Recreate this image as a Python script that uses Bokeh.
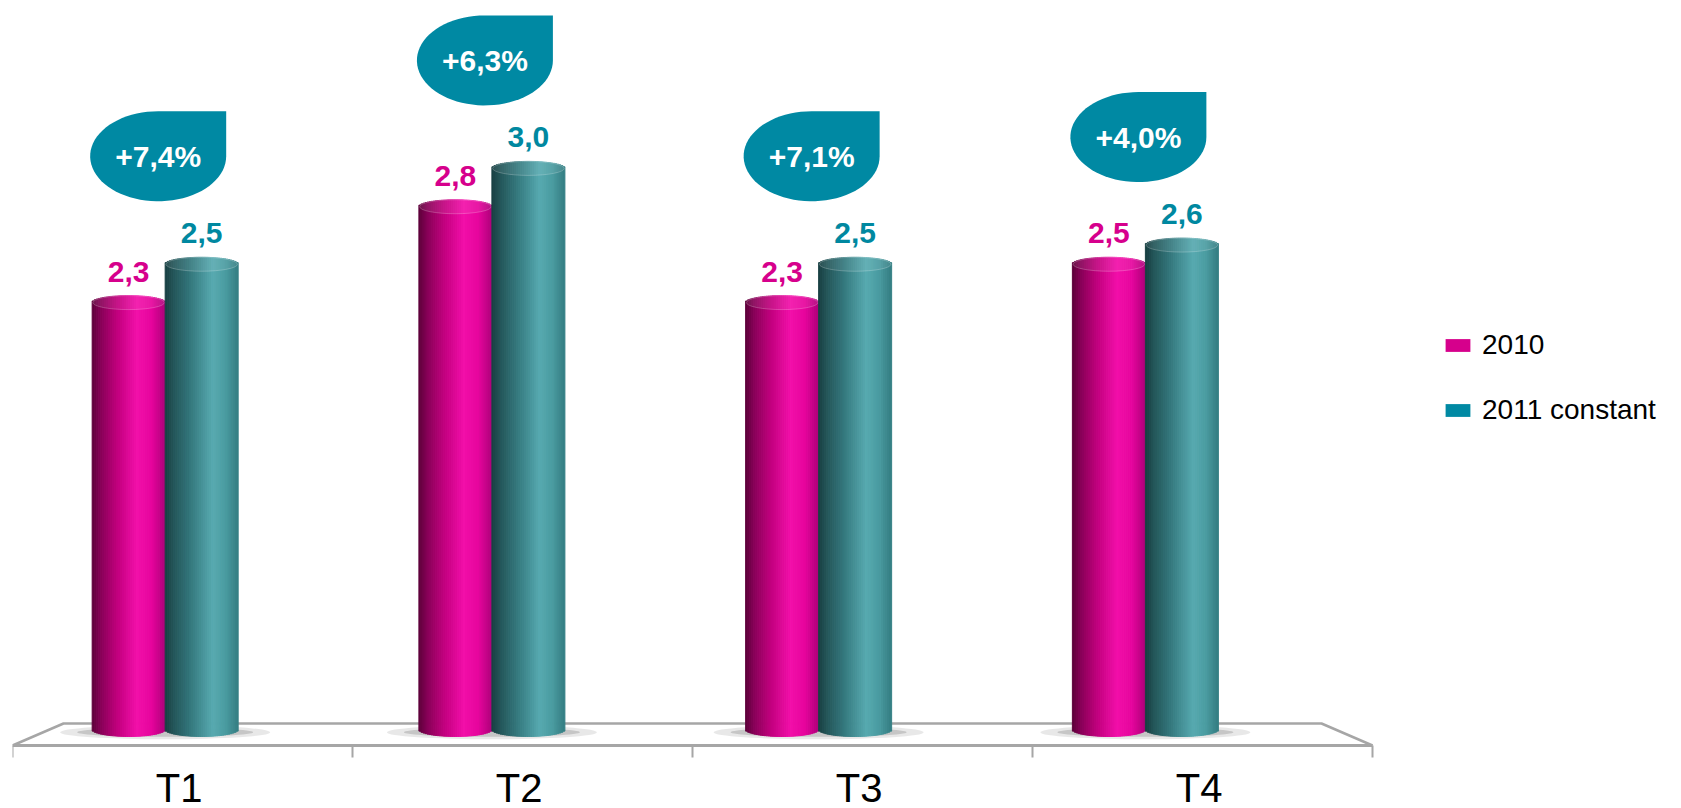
import numpy as np
from bokeh.plotting import figure
from bokeh.models import ColumnDataSource, Range1d, FixedTicker, Legend, LegendItem
from bokeh.core.properties import value
from bokeh.embed import file_html
from bokeh.resources import INLINE

# ---------------- data ----------------
categories = ["T1", "T2", "T3", "T4"]
series_names = ["2010", "2011 constant"]
values_2010 = [2.3, 2.8, 2.3, 2.5]
values_2011 = [2.5, 3.0, 2.5, 2.6]
growth_labels = ["+7,4%", "+6,3%", "+7,1%", "+4,0%"]

# ---------------- style / layout ----------------
FONT = "Liberation Sans"
MAGENTA = "#D6008C"
TEAL = "#0089A3"
LABEL_TEAL = "#0088A0"
GRID_GREY = "#A6A6A6"

W, H = 1681, 808
BORDER_L = 12
FRAME_W, FRAME_H = W - BORDER_L, H
PX_X = 340.0          # px per category
PX_Y = 191.7          # px per unit of value
BASE_PX = 72          # px between the cylinder bases and the bottom of the canvas
x_end = FRAME_W / PX_X
y_start = -BASE_PX / PX_Y
y_end = y_start + FRAME_H / PX_Y
floor_front = -9 / PX_Y       # front edge of the 3D floor
floor_back = 13 / PX_Y        # back edge of the 3D floor

depth_scale = 0.961   # bars stand mid-depth on the 3D floor -> slightly tighter spacing
group0 = 0.449
bar_w = 73 / PX_X
cap = 7 / PX_Y
N_STRIPS = 36

magenta_stops = [(0.0, "#5a0039"), (0.12, "#870057"), (0.35, "#c2007e"),
                 (0.62, "#f20fa9"), (0.82, "#e6059d"), (1.0, "#b0007a")]
teal_stops = [(0.0, "#173e41"), (0.12, "#245659"), (0.35, "#34787d"),
              (0.66, "#57aab0"), (0.84, "#4a9ba0"), (1.0, "#347d82")]


def hex2rgb(h):
    h = h.lstrip("#")
    return np.array([int(h[i:i + 2], 16) for i in (0, 2, 4)], dtype=float)


def grad(stops, u):
    for (u0, c0), (u1, c1) in zip(stops[:-1], stops[1:]):
        if u0 <= u <= u1:
            t = (u - u0) / (u1 - u0)
            c = hex2rgb(c0) * (1 - t) + hex2rgb(c1) * t
            return "#%02x%02x%02x" % tuple(int(round(v)) for v in c)
    return stops[-1][1]


p = figure(width=W, height=H, output_backend="svg", toolbar_location=None,
           x_range=Range1d(0, x_end), y_range=Range1d(y_start, y_end),
           y_axis_location=None, min_border_left=BORDER_L, min_border_right=0,
           min_border_top=0, min_border_bottom=0)
p.grid.visible = False
p.outline_line_color = None
p.background_fill_color = "white"

n = len(categories)
group_x = [group0 + depth_scale * i for i in range(n)]

# ---------- floor (3D base) ----------
inset = 51 / PX_X
p.line(x=[0, inset, n - inset, n], y=[floor_front, floor_back, floor_back, floor_front],
       line_color=GRID_GREY, line_width=2.5)

# shadows under the cylinders
p.ellipse(x=group_x, y=[cap * 0.6] * n, width=2 * bar_w + 64 / PX_X, height=14 / PX_Y,
          fill_color="#7f7f7f", fill_alpha=0.18, line_color=None)
p.ellipse(x=group_x, y=[cap * 0.6] * n, width=2 * bar_w + 30 / PX_X, height=9 / PX_Y,
          fill_color="#5f5f5f", fill_alpha=0.25, line_color=None)

# ---------- cylinders ----------
def cylinders(vals, side, stops):
    xs, bottoms, tops, colors = [], [], [], []
    centers = []
    for gx, v in zip(group_x, vals):
        cx = gx + side * bar_w / 2
        centers.append(cx)
        left = cx - bar_w / 2
        for k in range(N_STRIPS):
            u = (k + 0.5) / N_STRIPS
            s = np.sqrt(max(0.0, 1 - (2 * u - 1) ** 2))
            xs.append(left + u * bar_w)
            bottoms.append(cap * (1 - s))
            tops.append(v - cap + cap * s)
            colors.append(grad(stops, u))
    src = ColumnDataSource(dict(x=xs, bottom=bottoms, top=tops, color=colors))
    p.vbar(x="x", bottom="bottom", top="top", width=bar_w / N_STRIPS,
           fill_color="color", line_color="color", line_width=1, source=src)
    # top face rim
    p.ellipse(x=centers, y=[v - cap for v in vals], width=bar_w * 0.98, height=2 * cap,
              fill_color="white", fill_alpha=0.08, line_color="white", line_alpha=0.22,
              line_width=1)
    return centers


c2010 = cylinders(values_2010, -1, magenta_stops)
c2011 = cylinders(values_2011, +1, teal_stops)

# ---------- value labels ----------
def fmt(v):
    return ("%.1f" % v).replace(".", ",")


p.text(x=c2010, y=values_2010, text=[fmt(v) for v in values_2010],
       text_align="center", text_baseline="middle", y_offset=-24,
       text_font=value(FONT), text_font_style="bold", text_font_size="30px",
       text_color=MAGENTA)
p.text(x=c2011, y=values_2011, text=[fmt(v) for v in values_2011],
       text_align="center", text_baseline="middle", y_offset=-24,
       text_font=value(FONT), text_font_style="bold", text_font_size="30px",
       text_color=LABEL_TEAL)

# ---------- growth bubbles ----------
a = 68 / PX_X
b = 45 / PX_Y
theta = np.linspace(np.pi / 2, 2 * np.pi, 60)
bx, by, bxs, bys = [], [], [], []
for gx, v in zip(group_x, values_2011):
    cx = gx - 7 / PX_X
    cy = v + 56 / PX_Y + b
    bx.append(cx)
    by.append(cy)
    xs = list(cx + a * np.cos(theta)) + [cx + a]
    ys = list(cy + b * np.sin(theta)) + [cy + b]
    bxs.append(xs)
    bys.append(ys)
p.patches(xs=bxs, ys=bys, fill_color=TEAL, line_color=None)
p.text(x=bx, y=by, text=growth_labels, text_align="center", text_baseline="middle",
       text_font=value(FONT), text_font_style="bold", text_font_size="30px",
       text_color="white")

# ---------- category axis on the floor's front edge ----------
ax = p.xaxis[0]
ax.fixed_location = floor_front
label_pos = [i + 0.49 for i in range(n)]
ax.ticker = FixedTicker(ticks=label_pos, minor_ticks=list(range(n + 1)))
ax.major_label_overrides = {t: c for t, c in zip(label_pos, categories)}
ax.bounds = (0, n)
ax.axis_line_color = GRID_GREY
ax.axis_line_width = 3
ax.major_tick_in = 0
ax.major_tick_out = 0
ax.minor_tick_in = 0
ax.minor_tick_out = 12
ax.minor_tick_line_color = GRID_GREY
ax.minor_tick_line_width = 2
ax.major_label_text_font = FONT
ax.major_label_text_font_size = "40px"
ax.major_label_text_color = "black"
ax.major_label_standoff = 8

# ---------- legend ----------
r1 = p.vbar(x=[float("nan")], top=[float("nan")], width=0.1, fill_color=MAGENTA,
            line_color=None)
r2 = p.vbar(x=[float("nan")], top=[float("nan")], width=0.1, fill_color=TEAL,
            line_color=None)
legend = Legend(items=[LegendItem(label=series_names[0], renderers=[r1]),
                       LegendItem(label=series_names[1], renderers=[r2])],
                location=(1430, 382), orientation="vertical",
                glyph_width=31, glyph_height=16, label_standoff=9, spacing=33,
                padding=0, margin=0, border_line_alpha=0, background_fill_alpha=0,
                label_text_font=FONT, label_text_font_size="28px",
                label_text_color="black")
p.add_layout(legend)

open("out.html", "w").write(file_html(p, INLINE))
